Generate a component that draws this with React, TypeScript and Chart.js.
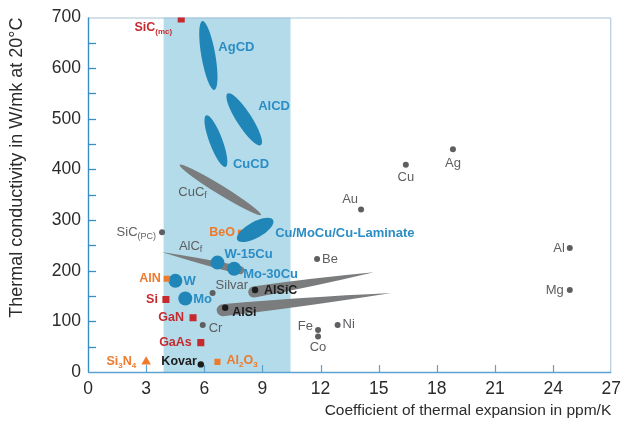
import React, { useEffect, useRef } from 'react';
import { Chart, registerables } from 'chart.js';

Chart.register(...registerables);

// ---- axes ----
const X_TICKS = [0, 3, 6, 9, 12, 15, 18, 21, 24, 27];
const Y_TICKS = [0, 100, 200, 300, 400, 500, 600, 700];
const Y_MINOR = [50, 150, 250, 350, 450, 550, 650];
const BAND_CTE = [3.9, 10.45];

// ---- materials (CTE ppm/K, thermal conductivity W/mK) ----
const metalNames = ['Ag', 'Cu', 'Au', 'Be', 'Al', 'Mg', 'Fe', 'Co', 'Ni', 'Cr', 'Silvar', 'SiC_{(PC)}'];
const metalCte = [18.83, 16.4, 14.09, 11.82, 24.86, 24.86, 11.87, 11.87, 12.88, 5.92, 6.43, 3.82];
const metalK = [440, 409, 321, 223, 245, 162, 83, 70, 93, 93, 156, 276];

const alloyNames = ['AlSiC', 'AlSi', 'Kovar'];
const alloyCte = [8.62, 7.08, 5.82];
const alloyK = [162, 127, 15];

const semiNames = ['SiC_{(mc)}', 'Si', 'GaN', 'GaAs'];
const semiCte = [4.81, 4.02, 5.42, 5.82];
const semiK = [697, 143, 107, 58];

const ceramicNames = ['AlN', 'Al_{2}O_{3}'];
const ceramicCte = [4.06, 6.68];
const ceramicK = [184, 20];

const beoNames = ['BeO'];
const beoCte = [7.89];
const beoK = [275];

const nitrideNames = ['Si_{3}N_{4}'];
const nitrideCte = [3.0];
const nitrideK = [20];

const heavyNames = ['W', 'Mo', 'W-15Cu', 'Mo-30Cu'];
const heavyCte = [4.51, 5.02, 6.68, 7.54];
const heavyK = [180, 145, 216, 204];

// composite ranges (from -> to)
const compNames = ['AgCD', 'AlCD', 'CuCD', 'CuC_{f}', 'Cu/MoCu/Cu-Laminate', 'AlC_{f}', 'AlSiC range', 'AlSi range'];
const compCteFrom = [5.9, 7.2, 6.1, 4.73, 7.7, 7.85, 8.55, 6.95];
const compCteTo = [6.52, 8.92, 7.1, 8.93, 9.55, 3.8, 14.75, 15.65];
const compKFrom = [693, 550, 507, 409, 261, 201, 158, 122];
const compKTo = [557, 448, 405, 310, 300, 237, 197, 156];

// ---- styles ----
const FONT = 'Arial, "Liberation Sans", Helvetica, sans-serif';
const C = {
  gray: '#5e5f61',
  grayText: '#5d5e60',
  grayShape: '#7a7c7d',
  black: '#1c1c1c',
  red: '#c72a2e',
  orange: '#ee7a2c',
  blue: '#1f86b7',
  blueText: '#2c8dc5',
  band: '#b3dbe9',
  axis: '#3a8ec6',
  axisLight: '#5ea2d2',
  frame: '#a6c2d7',
  text: '#2b2b2b',
};

type Align = 'left' | 'right' | 'center';
const LABEL_POS: Record<string, [number, number, Align]> = {
  Ag: [0, 14, 'center'],
  Cu: [0, 13, 'center'],
  Au: [-3, -10, 'right'],
  Be: [5, 0, 'left'],
  Al: [-5, 0, 'right'],
  Mg: [-6, 0, 'right'],
  Fe: [-5, -4, 'right'],
  Co: [0, 11, 'center'],
  Ni: [5, 0, 'left'],
  Cr: [6, 4, 'left'],
  Silvar: [3, -8, 'left'],
  'SiC_{(PC)}': [-6, 0, 'right'],
  AlSiC: [9, 1, 'left'],
  AlSi: [7, 5, 'left'],
  Kovar: [-4, -3, 'right'],
  'SiC_{(mc)}': [-9, 9, 'right'],
  Si: [-8, 0, 'right'],
  GaN: [-9, 0, 'right'],
  GaAs: [-9, 0, 'right'],
  AlN: [-6, 0, 'right'],
  'Al_{2}O_{3}': [9, -1, 'left'],
  BeO: [-6, 0, 'right'],
  'Si_{3}N_{4}': [-10, 0, 'right'],
  W: [8, 1, 'left'],
  Mo: [8, 1, 'left'],
  'W-15Cu': [7, -8, 'left'],
  'Mo-30Cu': [9, 6, 'left'],
  AgCD: [10, -8, 'left'],
  AlCD: [14, -13, 'left'],
  CuCD: [17, 23, 'left'],
  'CuC_{f}': [-42, 2, 'left'],
  'Cu/MoCu/Cu-Laminate': [20, 3, 'left'],
  'AlC_{f}': [-22, -15, 'left'],
};

const COMP_STYLE: Record<string, { shape: 'ellipse' | 'wedge'; color: string; width: number; label?: string }> = {
  AgCD: { shape: 'ellipse', color: C.blue, width: 14, label: C.blueText },
  AlCD: { shape: 'ellipse', color: C.blue, width: 15, label: C.blueText },
  CuCD: { shape: 'ellipse', color: C.blue, width: 13, label: C.blueText },
  'CuC_{f}': { shape: 'ellipse', color: C.grayShape, width: 9, label: C.grayText },
  'Cu/MoCu/Cu-Laminate': { shape: 'ellipse', color: C.blue, width: 16, label: C.blueText },
  'AlC_{f}': { shape: 'wedge', color: C.grayShape, width: 8, label: C.grayText },
  'AlSiC range': { shape: 'wedge', color: C.grayShape, width: 11 },
  'AlSi range': { shape: 'wedge', color: C.grayShape, width: 12 },
};

function labelFont(color: string): [number, string] {
  if (color === C.blueText) return [13, 'bold'];
  if (color === C.grayText) return [13, 'normal'];
  return [12.5, 'bold'];
}

function splitParts(s: string) {
  const out: { t: string; sub: boolean }[] = [];
  const re = /_\{([^}]*)\}/g;
  let last = 0;
  let m: RegExpExecArray | null;
  while ((m = re.exec(s))) {
    if (m.index > last) out.push({ t: s.slice(last, m.index), sub: false });
    out.push({ t: m[1], sub: true });
    last = re.lastIndex;
  }
  if (last < s.length) out.push({ t: s.slice(last), sub: false });
  return out;
}

function drawLabel(ctx: CanvasRenderingContext2D, text: string, x: number, y: number, align: Align, color: string) {
  const [size, weight] = labelFont(color);
  const parts = splitParts(text);
  const main = `${weight} ${size}px ${FONT}`;
  const sub = `${weight} ${Math.round(size * 0.66)}px ${FONT}`;
  let total = 0;
  const widths = parts.map((p) => {
    ctx.font = p.sub ? sub : main;
    const w = ctx.measureText(p.t).width;
    total += w;
    return w;
  });
  let sx = align === 'left' ? x : align === 'right' ? x - total : x - total / 2;
  ctx.fillStyle = color;
  ctx.textBaseline = 'middle';
  ctx.textAlign = 'left';
  parts.forEach((p, i) => {
    ctx.font = p.sub ? sub : main;
    ctx.fillText(p.t, sx, p.sub ? y + size * 0.3 : y);
    sx += widths[i];
  });
}

function drawWedge(ctx: CanvasRenderingContext2D, x1: number, y1: number, x2: number, y2: number, w: number) {
  const ang = Math.atan2(y2 - y1, x2 - x1);
  const len = Math.hypot(x2 - x1, y2 - y1);
  const r = w / 2;
  ctx.save();
  ctx.translate(x1, y1);
  ctx.rotate(ang);
  ctx.beginPath();
  ctx.moveTo(0, -r);
  ctx.quadraticCurveTo(len * 0.45, -r * 0.85, len, 0);
  ctx.quadraticCurveTo(len * 0.45, r * 0.85, 0, r);
  ctx.arc(0, 0, r, Math.PI / 2, Math.PI * 1.5);
  ctx.closePath();
  ctx.fill();
  ctx.restore();
}

function pts(xs: number[], ys: number[]) {
  return xs.map((x, i) => ({ x, y: ys[i] }));
}

const GROUPS = [
  { names: metalNames, color: C.gray, label: C.grayText },
  { names: alloyNames, color: C.black, label: C.black },
  { names: semiNames, color: C.red, label: C.red },
  { names: ceramicNames, color: C.orange, label: C.orange },
  { names: beoNames, color: C.orange, label: C.orange },
  { names: nitrideNames, color: C.orange, label: C.orange },
  { names: heavyNames, color: C.blue, label: C.blueText },
];
const BEO_INDEX = 4;

const overlay = {
  id: 'overlay',
  beforeDatasetsDraw(chart: any) {
    const { ctx, chartArea, scales } = chart;
    const { left, right, top, bottom } = chartArea;
    const xs = scales.x;
    const ys = scales.y;
    ctx.save();
    const b0 = xs.getPixelForValue(BAND_CTE[0]);
    const b1 = xs.getPixelForValue(BAND_CTE[1]);
    ctx.fillStyle = C.band;
    ctx.fillRect(b0, top, b1 - b0, bottom - top);
    ctx.strokeStyle = C.frame;
    ctx.lineWidth = 1;
    ctx.beginPath();
    ctx.moveTo(left, top + 0.5);
    ctx.lineTo(right - 0.5, top + 0.5);
    ctx.lineTo(right - 0.5, bottom);
    ctx.stroke();
    ctx.strokeStyle = C.axis;
    ctx.lineWidth = 1.4;
    ctx.beginPath();
    ctx.moveTo(left + 0.5, top);
    ctx.lineTo(left + 0.5, bottom + 0.5);
    ctx.stroke();
    ctx.strokeStyle = C.axisLight;
    ctx.beginPath();
    ctx.moveTo(left, bottom + 0.5);
    ctx.lineTo(right, bottom + 0.5);
    ctx.stroke();
    ctx.strokeStyle = C.axis;
    ctx.lineWidth = 1.3;
    [...Y_TICKS, ...Y_MINOR].forEach((v) => {
      if (v === 0 || v === 700) return;
      const py = Math.round(ys.getPixelForValue(v)) + 0.5;
      ctx.beginPath();
      ctx.moveTo(left, py);
      ctx.lineTo(left + 8, py);
      ctx.stroke();
    });
    ctx.strokeStyle = C.axisLight;
    ctx.lineWidth = 1.2;
    X_TICKS.forEach((v) => {
      if (v === 0 || v === 27) return;
      const px = Math.round(xs.getPixelForValue(v)) + 0.5;
      ctx.beginPath();
      ctx.moveTo(px, bottom);
      ctx.lineTo(px, bottom - 7);
      ctx.stroke();
    });
    ctx.restore();
  },
  afterDatasetDraw(chart: any, args: any) {
    if (args.index !== BEO_INDEX) return;
    const { ctx, scales } = chart;
    const xs = scales.x;
    const ys = scales.y;
    ctx.save();
    compNames.forEach((name, i) => {
      const st = COMP_STYLE[name];
      const x1 = xs.getPixelForValue(compCteFrom[i]);
      const y1 = ys.getPixelForValue(compKFrom[i]);
      const x2 = xs.getPixelForValue(compCteTo[i]);
      const y2 = ys.getPixelForValue(compKTo[i]);
      ctx.fillStyle = st.color;
      if (st.shape === 'ellipse') {
        const cx = (x1 + x2) / 2;
        const cy = (y1 + y2) / 2;
        const len = Math.hypot(x2 - x1, y2 - y1);
        const ang = Math.atan2(y2 - y1, x2 - x1);
        ctx.beginPath();
        ctx.ellipse(cx, cy, len / 2, st.width / 2, ang, 0, Math.PI * 2);
        ctx.fill();
      } else {
        drawWedge(ctx, x1, y1, x2, y2, st.width);
      }
    });
    ctx.restore();
  },
  afterDatasetsDraw(chart: any) {
    const { ctx, scales } = chart;
    const xs = scales.x;
    const ys = scales.y;
    ctx.save();
    compNames.forEach((name, i) => {
      const st = COMP_STYLE[name];
      const pos = LABEL_POS[name];
      if (!st.label || !pos) return;
      const cx = (xs.getPixelForValue(compCteFrom[i]) + xs.getPixelForValue(compCteTo[i])) / 2;
      const cy = (ys.getPixelForValue(compKFrom[i]) + ys.getPixelForValue(compKTo[i])) / 2;
      drawLabel(ctx, name, cx + pos[0], cy + pos[1], pos[2], st.label);
    });
    chart.data.datasets.forEach((ds: any, di: number) => {
      const g = GROUPS[di];
      ds.data.forEach((p: any, i: number) => {
        const name = g.names[i];
        const pos = LABEL_POS[name];
        if (!pos) return;
        const px = xs.getPixelForValue(p.x);
        const py = ys.getPixelForValue(p.y);
        drawLabel(ctx, name, px + pos[0], py + pos[1], pos[2], g.label);
      });
    });
    ctx.restore();
  },
};

export default function App() {
  const ref = useRef<HTMLCanvasElement>(null);
  useEffect(() => {
    if (!ref.current) return;
    const mk = (data: any[], color: string, style: string, radius: number, order = 0) => ({
      data,
      pointStyle: style,
      pointRadius: radius,
      pointBackgroundColor: color,
      pointBorderColor: color,
      pointBorderWidth: 0,
      showLine: false,
      clip: 0,
      order,
    });
    const chart = new Chart(ref.current, {
      type: 'scatter',
      data: {
        datasets: [
          mk(pts(metalCte, metalK), C.gray, 'circle', 3),
          mk(pts(alloyCte, alloyK), C.black, 'circle', 3.2),
          mk(pts(semiCte, semiK), C.red, 'rect', 5),
          mk(pts(ceramicCte, ceramicK), C.orange, 'rect', 4.3),
          mk(pts(beoCte, beoK), C.orange, 'rect', 4.3, 1),
          mk(pts(nitrideCte, nitrideK), C.orange, 'triangle', 5.5),
          mk(pts(heavyCte, heavyK), C.blue, 'circle', 7),
        ] as any,
      },
      options: {
        animation: false,
        responsive: false,
        devicePixelRatio: 1,
        events: [],
        layout: { padding: { top: 17, right: 9, left: 0, bottom: 0 } },
        plugins: { legend: { display: false }, tooltip: { enabled: false } },
        scales: {
          x: {
            type: 'linear',
            min: 0,
            max: 27,
            afterBuildTicks: (s: any) => {
              s.ticks = X_TICKS.map((v) => ({ value: v }));
            },
            afterFit: (s: any) => {
              s.height = 53;
            },
            grid: { display: false, drawTicks: false },
            border: { display: false },
            ticks: {
              color: C.text,
              font: { size: 17.5, family: FONT },
              padding: 7,
              maxRotation: 0,
              autoSkip: false,
            },
            title: {
              display: true,
              text: 'Coefficient of thermal expansion in ppm/K',
              align: 'end',
              color: C.text,
              font: { size: 15.5, family: FONT },
              padding: { top: 0, bottom: 5 },
            },
          },
          y: {
            type: 'linear',
            min: 0,
            max: 700,
            afterBuildTicks: (s: any) => {
              s.ticks = Y_TICKS.map((v) => ({ value: v }));
            },
            afterFit: (s: any) => {
              s.width = 88;
            },
            grid: { display: false, drawTicks: false },
            border: { display: false },
            ticks: {
              color: C.text,
              font: { size: 17.5, family: FONT },
              padding: 7,
            },
            title: {
              display: true,
              text: 'Thermal conductivity in W/mk at 20°C',
              align: 'end',
              color: C.text,
              font: { size: 18, family: FONT },
              padding: { top: 6.5, bottom: 0 },
            },
          },
        },
      } as any,
      plugins: [overlay],
    });
    return () => chart.destroy();
  }, []);
  return (
    <div style={{ position: 'fixed', left: 0, top: 0, width: 628, height: 425, background: '#fff' }}>
      <canvas ref={ref} width={628} height={425} style={{ display: 'block' }} />
    </div>
  );
}
